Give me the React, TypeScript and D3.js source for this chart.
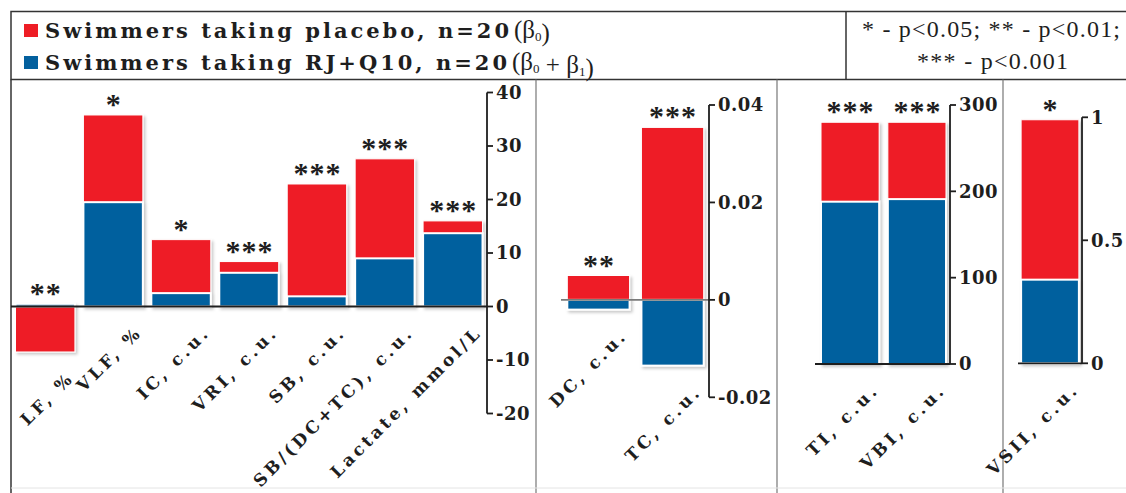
import React from "react";
import * as d3 from "d3";

// ---- data -------------------------------------------------------------
const hrvCategories = ["LF, %", "VLF, %", "IC, c.u.", "VRI, c.u.", "SB, c.u.", "SB/(DC+TC), c.u.", "Lactate, mmol/L"];
const hrvPlacebo = [-8.5, 35.8, 12.5, 8.4, 22.9, 27.6, 16.0];
const hrvTreated = [0.5, 19.5, 2.5, 6.3, 1.9, 9.0, 13.7];
const hrvSignif = ["**", "*", "*", "***", "***", "***", "***"];
const hrvTicks = [40, 30, 20, 10, 0, -10, -20];

const centCategories = ["DC, c.u.", "TC, c.u."];
const centPlacebo = [0.005, 0.0354];
const centTreated = [-0.002, -0.0135];
const centSignif = ["**", "***"];
const centTicks = [0.04, 0.02, 0, -0.02];

const indexCategories = ["TI, c.u.", "VBI, c.u."];
const indexPlacebo = [280, 280];
const indexTreated = [188, 191];
const indexSignif = ["***", "***"];
const indexTicks = [300, 200, 100, 0];

const vsiiCategories = ["VSII, c.u."];
const vsiiPlacebo = [0.99];
const vsiiTreated = [0.34];
const vsiiSignif = ["*"];
const vsiiTicks = [1, 0.5, 0];

const legendPlacebo = "Swimmers taking placebo, n=20";
const legendTreated = "Swimmers taking RJ+Q10, n=20";
const signifNote1 = "* - p<0.05; ** - p<0.01;";
const signifNote2 = "*** - p<0.001";

// ---- style ------------------------------------------------------------
const RED = "#EE1D25";
const BLUE = "#03609E";
const INK = "#1e1e1e";
const SERIF = "'Liberation Serif', 'Times New Roman', serif";
const WIDE = "'DejaVu Serif', 'Liberation Serif', serif";

type PanelProps = {
  cats: string[];
  placebo: number[];
  treated: number[];
  signif: string[];
  ticks: number[];
  xRange: [number, number];
  padIn: number;
  padOut: number;
  yDomain: [number, number];
  yRange: [number, number];
  axisX: number;
  zeroStart: number;
  zeroColor: string;
};

function Panel(p: PanelProps) {
  const x = d3.scaleBand<string>().domain(p.cats).range(p.xRange).paddingInner(p.padIn).paddingOuter(p.padOut);
  const y = d3.scaleLinear().domain(p.yDomain).range(p.yRange);
  const y0 = y(0);
  const bw = x.bandwidth();
  const yTop = y(d3.max(p.ticks) as number);
  const yBot = y(d3.min(p.ticks) as number);

  return (
    <g>
      {p.cats.map((c, i) => {
        const x0 = x(c) as number;
        const r = p.placebo[i];
        const b = p.treated[i];
        return (
          <g key={c} filter="url(#barShadow)">
            <rect x={x0} y={Math.min(y0, y(r))} width={bw} height={Math.abs(y(r) - y0)} fill={RED} stroke="#fff" strokeWidth={1} />
            <rect x={x0} y={Math.min(y0, y(b))} width={bw} height={Math.abs(y(b) - y0)} fill={BLUE} stroke="#fff" strokeWidth={2} />
          </g>
        );
      })}
      <line x1={p.zeroStart} x2={p.axisX} y1={y0} y2={y0} stroke={p.zeroColor} strokeWidth={1.8} />
      {p.cats.map((c, i) => {
        const cx = (x(c) as number) + bw / 2;
        const top = y(Math.max(p.placebo[i], p.treated[i], 0));
        const bottom = y(Math.min(p.placebo[i], p.treated[i], 0));
        const lx = cx + 30;
        const ly = bottom + 27;
        return (
          <g key={c + "-lab"}>
            <text x={cx + 0.5} y={top - 1} textAnchor="middle" fontFamily={SERIF} fontWeight="bold" fontSize={30} letterSpacing={1} fill={INK}>
              {p.signif[i]}
            </text>
            <text
              transform={`translate(${lx},${ly}) rotate(-45)`}
              textAnchor="end"
              fontFamily={WIDE}
              fontWeight="bold"
              fontSize={17}
              letterSpacing={3.4}
              fill={INK}
            >
              {c}
            </text>
          </g>
        );
      })}
      <line x1={p.axisX} x2={p.axisX} y1={yTop} y2={yBot} stroke={INK} strokeWidth={1.8} />
      {p.ticks.map((t) => (
        <g key={t}>
          <line x1={p.axisX} x2={p.axisX + 6} y1={y(t)} y2={y(t)} stroke={INK} strokeWidth={1.8} />
          <text x={p.axisX + 9} y={y(t)} dy="0.36em" fontFamily={WIDE} fontWeight="bold" fontSize={18} letterSpacing={0.5} fill={INK}>
            {String(t)}
          </text>
        </g>
      ))}
    </g>
  );
}

function Beta({ x, y, subs }: { x: number; y: number; subs: string[] }) {
  return (
    <text x={x} y={y} fontFamily={SERIF} fontSize={25} fill={INK}>
      (
      {subs.map((s, i) => (
        <React.Fragment key={i}>
          {i > 0 ? <tspan> + </tspan> : null}
          <tspan>β</tspan>
          <tspan fontSize={13} dy={3}>{s}</tspan>
          <tspan dy={-3}></tspan>
        </React.Fragment>
      ))}
      )
    </text>
  );
}

export default function App() {
  const W = 1126;
  const H = 493;
  return (
    <svg width={W} height={H} style={{ position: "absolute", left: 0, top: 0, background: "#fff" }}>
      <defs>
        <filter id="barShadow" x="-10%" y="-10%" width="130%" height="130%">
          <feDropShadow dx={2} dy={2} stdDeviation={1.5} floodColor="#000" floodOpacity={0.22} />
        </filter>
      </defs>
      <rect x={0} y={0} width={W} height={H} fill="#fff" />

      {/* legend */}
      <rect x={11} y={11.5} width={W} height={68} fill="none" stroke="#333" strokeWidth={1.5} />
      <line x1={846} x2={846} y1={11.5} y2={79.5} stroke="#333" strokeWidth={1.5} />
      <rect x={24} y={24} width={14} height={13} fill={RED} />
      <rect x={24} y={56} width={14} height={13} fill={BLUE} />
      <text x={45} y={38} fontFamily={WIDE} fontWeight="bold" fontSize={21} fill={INK} textLength={464} lengthAdjust="spacing">
        {legendPlacebo}
      </text>
      <Beta x={514} y={38} subs={["0"]} />
      <text x={45} y={69.5} fontFamily={WIDE} fontWeight="bold" fontSize={21} fill={INK} textLength={462} lengthAdjust="spacing">
        {legendTreated}
      </text>
      <Beta x={512} y={69.5} subs={["0", "1"]} />
      <text x={862} y={37} fontFamily={SERIF} fontSize={24} fill={INK} textLength={258} lengthAdjust="spacing">
        {signifNote1}
      </text>
      <text x={917} y={69} fontFamily={SERIF} fontSize={24} fill={INK} textLength={151} lengthAdjust="spacing">
        {signifNote2}
      </text>

      {/* panel frames */}
      <line x1={11} x2={11} y1={79.5} y2={H} stroke="#333" strokeWidth={1.5} />
      <line x1={536} x2={536} y1={79.5} y2={H} stroke="#777" strokeWidth={1.2} />
      <line x1={777} x2={777} y1={79.5} y2={H} stroke="#777" strokeWidth={1.2} />
      <line x1={1003} x2={1003} y1={79.5} y2={H} stroke="#777" strokeWidth={1.2} />
      <line x1={11} x2={W} y1={488} y2={488} stroke="#e4e4e4" strokeWidth={1} />

      <Panel
        cats={hrvCategories}
        placebo={hrvPlacebo}
        treated={hrvTreated}
        signif={hrvSignif}
        ticks={hrvTicks}
        xRange={[11, 487]}
        padIn={0.125}
        padOut={0.066}
        yDomain={[-20, 40]}
        yRange={[413.5, 92.5]}
        axisX={487}
        zeroStart={11}
        zeroColor={INK}
      />
      <Panel
        cats={centCategories}
        placebo={centPlacebo}
        treated={centTreated}
        signif={centSignif}
        ticks={centTicks}
        xRange={[561, 710]}
        padIn={0.16}
        padOut={0.085}
        yDomain={[-0.02, 0.04]}
        yRange={[397.3, 105]}
        axisX={709}
        zeroStart={561}
        zeroColor="#7a7a7a"
      />
      <Panel
        cats={indexCategories}
        placebo={indexPlacebo}
        treated={indexTreated}
        signif={indexSignif}
        ticks={indexTicks}
        xRange={[815, 952]}
        padIn={0.13}
        padOut={0.09}
        yDomain={[0, 300]}
        yRange={[364, 105]}
        axisX={950}
        zeroStart={815}
        zeroColor={INK}
      />
      <Panel
        cats={vsiiCategories}
        placebo={vsiiPlacebo}
        treated={vsiiTreated}
        signif={vsiiSignif}
        ticks={vsiiTicks}
        xRange={[1018, 1082]}
        padIn={0.07}
        padOut={0.05}
        yDomain={[0, 1]}
        yRange={[363.3, 117.3]}
        axisX={1082}
        zeroStart={1018}
        zeroColor={INK}
      />
    </svg>
  );
}
